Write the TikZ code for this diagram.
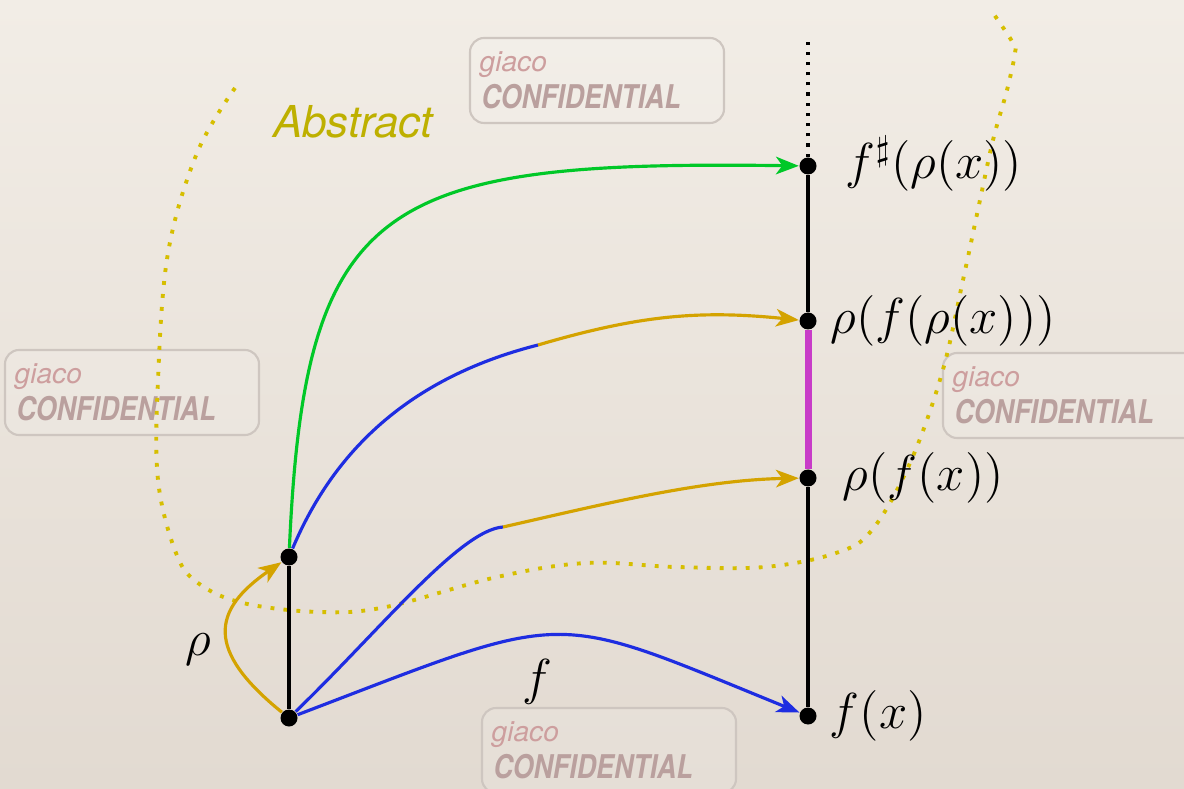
\documentclass[tikz,border=0pt]{standalone}
\usepackage{amsmath,amssymb}
\usepackage{fontspec}
\usetikzlibrary{arrows.meta,positioning}
\newfontfamily\helv{TeX Gyre Heros}
\definecolor{paperhi}{RGB}{242,237,230}
\definecolor{paperlo}{RGB}{226,218,209}
\definecolor{gold}{RGB}{212,163,0}
\definecolor{dotgold}{RGB}{214,190,0}
\definecolor{absgold}{RGB}{190,176,0}
\definecolor{grn}{RGB}{0,200,40}
\definecolor{blu}{RGB}{30,45,225}
\definecolor{mag}{RGB}{200,60,200}
\definecolor{wmpink}{RGB}{205,158,158}
\definecolor{wmgray}{RGB}{186,160,158}
\definecolor{wmline}{RGB}{206,198,192}
\newcommand{\wmark}[3]{%
  \draw[wmbox] (#1,#2) rectangle ++(2.54,-0.85);
  \node[wmsmall] (#3g) at (#1+0.09,#2-0.27) {giaco};
  \node[wmbig] (#3c) at (#1+0.11,#2-0.59) {\scalebox{0.82}[1]{CONFIDENTIAL}};
}

\begin{document}
\begin{tikzpicture}[x=1cm,y=1cm,
	pt/.style={circle,fill=black,inner sep=0pt,minimum size=0.17cm},
	lbl/.style={inner sep=0pt,text height=10.6pt,text depth=3.5pt,font=\fontsize{14.2}{17}\selectfont},
	abs/.style={inner sep=0pt,text=absgold,font=\helv\itshape\fontsize{12.5}{14}\selectfont},
	tip/.style={-{Stealth[length=6.5pt,width=5pt,inset=1.8pt]}},
	curve/.style={line width=0.9pt},
	axis/.style={line width=0.9pt},
	wmbox/.style={draw=wmline,line width=0.6pt,rounded corners=4pt,fill=white,fill opacity=0.12},
	wmsmall/.style={anchor=west,inner sep=0pt,text=wmpink,font=\helv\itshape\fontsize{8}{9}\selectfont},
	wmbig/.style={anchor=west,inner sep=0pt,text=wmgray,font=\helv\bfseries\itshape\fontsize{9.3}{10}\selectfont}]
	  \useasboundingbox (0,0) rectangle (11.84,7.88);
	  \shade[top color=paperhi,bottom color=paperlo] (0,0) rectangle (11.84,7.88);
	  \wmark{4.70}{7.50}{w1}
	  \wmark{0.05}{4.38}{w2}
	  \wmark{9.43}{4.35}{w3}
	  \wmark{4.82}{0.80}{w4}
	  \draw[dotgold,line width=1.1pt,dash pattern=on 1.1pt off 2.6pt] plot[smooth,tension=0.6] coordinates {(2.35,7.00) (1.97,6.35) (1.68,5.35) (1.58,4.08) (1.58,3.08) (1.76,2.35) (1.98,2.05) (2.43,1.85) (3.19,1.76) (3.86,1.81) (4.97,2.11) (5.86,2.25) (6.76,2.21) (7.65,2.21) (8.36,2.35) (8.72,2.58) (9.10,3.25) (9.42,4.15) (9.63,5.08) (9.80,5.88) (9.93,6.48) (10.07,6.98) (10.15,7.35) (10.13,7.45) (9.93,7.75)};
	  \node[abs] (abstr) at (3.53,6.66) {Abstract};
	  \node[pt] (x) at (2.89,0.70) {};
	  \node[pt] (rx) at (2.89,2.31) {};
	  \node[pt] (fx) at (8.08,0.72) {};
	  \node[pt] (rfx) at (8.08,3.10) {};
	  \node[pt] (rfrx) at (8.08,4.67) {};
	  \node[pt] (fsrx) at (8.08,6.22) {};
	  \coordinate (top) at (8.08,7.50);
	  \coordinate (m1) at (5.38,4.43);
	  \coordinate (m2) at (5.03,2.61);
	  \draw[axis] (x) -- (rx);
	  \draw[axis] (fx) -- (rfx);
	  \draw[axis] (rfrx) -- (fsrx);
	  \draw[axis,dotted] (fsrx) -- (top);
	  \draw[mag,line width=2pt] (rfx) -- (rfrx);
	  \draw[curve,grn,tip] (rx) .. controls (3.05,5.88) and (3.80,6.28) .. (fsrx);
	  \draw[curve,blu] (rx) .. controls (3.30,3.28) and (4.00,4.08) .. (m1);
	  \draw[curve,gold,tip] (m1) .. controls (6.40,4.73) and (7.00,4.78) .. (rfrx);
	  \draw[curve,blu] (x) .. controls (3.80,1.58) and (4.60,2.58) .. (m2);
	  \draw[curve,gold,tip] (m2) .. controls (6.00,2.83) and (7.00,3.08) .. (rfx);
	  \draw[curve,blu,tip] (x) .. controls (5.75,1.79) and (5.45,1.79) .. (fx);
	  \draw[curve,gold,tip] (x) .. controls (2.05,1.38) and (2.12,1.78) .. (rx);
	  \node[lbl,right=0.12 of fx] (lfx) {$f(x)$};
	  \node[lbl,right=0.25 of rfx] (lrfx) {$\rho(f(x))$};
	  \node[lbl,right=0.13 of rfrx] (lrfrx) {$\rho(f(\rho(x)))$};
	  \node[lbl,right=0.28 of fsrx] (lfsrx) {$f^\sharp(\rho(x))$};
	  \node[lbl] (lf) at (5.37,1.06) {$f$};
	  \node[lbl] (lrho) at (1.98,1.45) {$\rho$};
	\end{tikzpicture}
\end{document}
